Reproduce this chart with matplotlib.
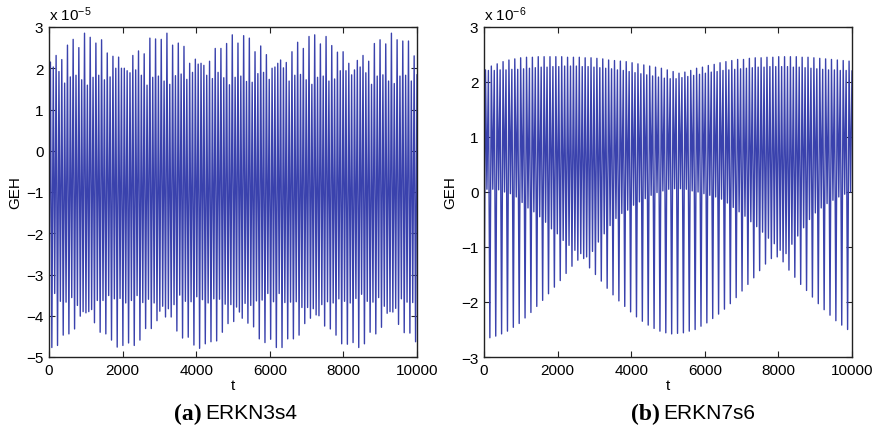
import numpy as np
import matplotlib
matplotlib.use('Agg')
import matplotlib.pyplot as plt

# ---------------- data ----------------
# Panel (a): ERKN3s4, GEH in units of 1e-5, per-oscillation maxima / minima
a_max = [2.15, 2.03, 2.31, 1.92, 2.21, 1.64, 2.56, 1.79, 2.70, 1.83,
         2.50, 1.72, 2.85, 1.59, 2.75, 1.78, 2.61, 1.83, 2.69, 1.72,
         2.37, 1.79, 2.29, 2.00, 2.27, 2.00, 2.00, 1.94, 1.89, 2.31,
         1.96, 2.42, 1.83, 2.35, 1.59, 2.73, 1.78, 2.71, 1.81, 2.70,
         1.69, 2.85, 1.61, 2.56, 1.82, 2.61, 1.86, 2.53, 1.73, 2.12,
         1.90, 2.22, 2.10, 2.12, 2.07, 1.83, 2.17, 1.75, 2.48, 1.90,
         2.48, 1.77, 2.60, 1.60, 2.81, 1.78, 2.61, 1.81, 2.79, 1.68,
         2.73, 1.66, 2.40, 1.87, 2.54, 1.90, 2.33, 1.73, 2.00, 2.03,
         2.12, 2.20, 2.01, 2.14, 1.69, 2.40, 1.83, 2.63, 1.85, 2.48,
         1.72, 2.77, 1.61, 2.81, 1.78, 2.59, 1.81, 2.77, 1.69, 2.55,
         1.74, 2.39, 1.94, 2.40, 1.94, 2.12, 1.84, 1.96, 2.19, 2.03,
         2.31, 1.89, 2.17, 1.61, 2.60, 1.81, 2.69, 1.84, 2.59, 1.69,
         2.85, 1.63, 2.69, 1.81, 2.66, 1.83, 2.66, 1.69, 2.30, 1.84]
a_min = [-3.66, -4.77, -3.46, -4.72, -3.65, -4.47, -3.67, -4.44, -3.56, -4.32,
         -3.75, -4.01, -3.90, -3.93, -3.90, -3.85, -4.17, -3.63, -4.40, -3.63,
         -4.44, -3.51, -4.59, -3.59, -4.76, -3.58, -4.72, -3.69, -4.66, -3.63,
         -4.72, -3.51, -4.59, -3.68, -4.31, -3.60, -4.31, -3.69, -4.12, -3.89,
         -3.77, -4.03, -3.83, -4.03, -3.73, -4.37, -3.50, -4.54, -3.65, -4.52,
         -3.66, -4.71, -3.54, -4.79, -3.61, -4.68, -3.69, -4.63, -3.59, -4.61,
         -3.60, -4.40, -3.72, -4.19, -3.73, -4.14, -3.79, -3.91, -4.06, -3.70,
         -4.18, -3.75, -4.27, -3.64, -4.56, -3.62, -4.65, -3.46, -4.57, -3.66,
         -4.77, -3.46, -4.77, -3.68, -4.56, -3.67, -4.56, -3.66, -4.47, -3.80,
         -4.19, -3.80, -4.06, -3.83, -3.98, -4.00, -3.73, -4.25, -3.66, -4.32,
         -3.69, -4.47, -3.59, -4.68, -3.65, -4.69, -3.69, -4.65, -3.58, -4.77,
         -3.48, -4.68, -3.65, -4.40, -3.67, -4.44, -3.56, -4.28, -3.77, -3.94,
         -3.90, -3.91, -3.82, -4.21, -3.59, -4.41, -3.67, -4.42, -3.68, -4.63]

# Panel (b): ERKN7s6, GEH in units of 1e-6; two interleaved oscillations per pair
b_deep = [-2.67, -2.65, -2.62, -2.58, -2.53, -2.46, -2.39, -2.29, -2.19, -2.08,
          -1.97, -1.85, -1.73, -1.61, -1.48, -1.35, -1.24, -1.21, -1.38, -1.50,
          -1.62, -1.75, -1.87, -1.98, -2.08, -2.18, -2.27, -2.35, -2.42, -2.48,
          -2.53, -2.56, -2.58, -2.57, -2.56, -2.53, -2.50, -2.44, -2.38, -2.30,
          -2.22, -2.13, -2.03, -1.92, -1.80, -1.68, -1.56, -1.43, -1.31, -1.21,
          -1.18, -1.27, -1.42, -1.55, -1.68, -1.79, -1.91, -2.03, -2.14, -2.24,
          -2.34, -2.42, -2.50]
b_tall = [2.22, 2.29, 2.33, 2.37, 2.40, 2.42, 2.44, 2.45, 2.45, 2.46,
          2.46, 2.46, 2.46, 2.46, 2.45, 2.45, 2.45, 2.44, 2.44, 2.43,
          2.42, 2.40, 2.39, 2.38, 2.37, 2.35, 2.33, 2.31, 2.29, 2.27,
          2.25, 2.22, 2.19, 2.16, 2.18, 2.21, 2.25, 2.27, 2.30, 2.32,
          2.35, 2.37, 2.39, 2.41, 2.41, 2.43, 2.44, 2.44, 2.45, 2.45,
          2.46, 2.46, 2.46, 2.46, 2.45, 2.45, 2.44, 2.43, 2.42, 2.41,
          2.40, 2.39, 2.38]
b_shallow = [0.05, 0.05, 0.04, 0.00, -0.03, -0.09, -0.19, -0.29, -0.36, -0.45,
             -0.55, -0.67, -0.76, -0.88, -0.97, -1.06, -1.12, -1.18, -1.08, -0.91,
             -0.76, -0.61, -0.48, -0.39, -0.33, -0.24, -0.18, -0.12, -0.06, -0.01,
             0.02, 0.05, 0.06, 0.06, 0.05, 0.02, 0.00, -0.03, -0.06, -0.09,
             -0.13, -0.20, -0.28, -0.36, -0.44, -0.54, -0.63, -0.73, -0.84, -0.94,
             -1.06, -1.12, -0.95, -0.80, -0.65, -0.50, -0.38, -0.29, -0.21, -0.15,
             -0.09, -0.04, 0.00]
b_short = [2.21, 2.21, 2.22, 2.22, 2.23, 2.23, 2.24, 2.25, 2.26, 2.27,
           2.27, 2.28, 2.28, 2.29, 2.29, 2.29, 2.28, 2.28, 2.27, 2.26,
           2.25, 2.24, 2.22, 2.21, 2.19, 2.17, 2.15, 2.13, 2.11, 2.09,
           2.07, 2.06, 2.06, 2.08, 2.10, 2.12, 2.14, 2.16, 2.18, 2.19,
           2.21, 2.22, 2.23, 2.24, 2.25, 2.26, 2.27, 2.27, 2.28, 2.28,
           2.28, 2.28, 2.27, 2.27, 2.26, 2.25, 2.24, 2.23, 2.22, 2.22,
           2.21, 2.21, 2.20]

t_end = 10000
x_ticks = [0, 2000, 4000, 6000, 8000, 10000]
a_yticks = [-5, -4, -3, -2, -1, 0, 1, 2, 3]
b_yticks = [-3, -2, -1, 0, 1, 2, 3]
a_exp = -5
b_exp = -6
titles = [("(a)", "ERKN3s4"), ("(b)", "ERKN7s6")]

# ---------------- styling ----------------
plt.rcParams['font.family'] = ['Liberation Sans', 'DejaVu Sans']
plt.rcParams['mathtext.fontset'] = 'custom'
plt.rcParams['mathtext.rm'] = 'Liberation Sans'
plt.rcParams['mathtext.it'] = 'Liberation Sans'
LINE = '#3a42ad'
W, H = 877, 431

fig = plt.figure(figsize=(W / 100, H / 100), dpi=100)


def px_axes(x0, x1, y0, y1):
    return fig.add_axes([x0 / W, 1 - y1 / H, (x1 - x0) / W, (y1 - y0) / H])


a_vals = np.column_stack([a_min, a_max]).ravel()
b_vals = np.column_stack([b_deep, b_tall, b_shallow, b_short]).ravel()

ax1 = px_axes(49, 417, 28, 358)
ax2 = px_axes(484, 852, 28, 358)

for ax, vals, yt, ex in [(ax1, a_vals, a_yticks, a_exp), (ax2, b_vals, b_yticks, b_exp)]:
    t = np.linspace(0, t_end, len(vals))
    ax.plot(t, vals, color=LINE, lw=1.0)
    ax.set_xlim(0, t_end)
    ax.set_ylim(yt[0], yt[-1])
    ax.set_xticks(x_ticks)
    ax.set_yticks(yt)
    ax.set_xticklabels([str(v) for v in x_ticks])
    ax.set_yticklabels([str(v).replace('-', '\u2212') for v in yt])
    ax.tick_params(direction='in', length=4, width=0.8, top=True, right=True,
                   labelsize=11, pad=4, colors='#222222', labelcolor='black')
    for s in ax.spines.values():
        s.set_linewidth(1.0)
        s.set_color('#222222')
    ax.set_xlabel('t', fontsize=11, labelpad=1)
    ax.set_ylabel('GEH', fontsize=11, labelpad=3)
    ax.text(0.0, 1.012, r'x 10$^{\mathregular{%d}}$' % ex, transform=ax.transAxes,
            fontsize=11, ha='left', va='bottom')

# captions
cap_y = 1 - 414 / H
for (lab, name), xr in zip(titles, [202, 660]):
    fig.text(xr / W, cap_y, lab, family='Liberation Serif', weight='bold',
             fontsize=17, ha='right', va='center')
    fig.text((xr + 3) / W, cap_y, name, fontsize=15, ha='left', va='center')

fig.savefig('out.png', dpi=100)
